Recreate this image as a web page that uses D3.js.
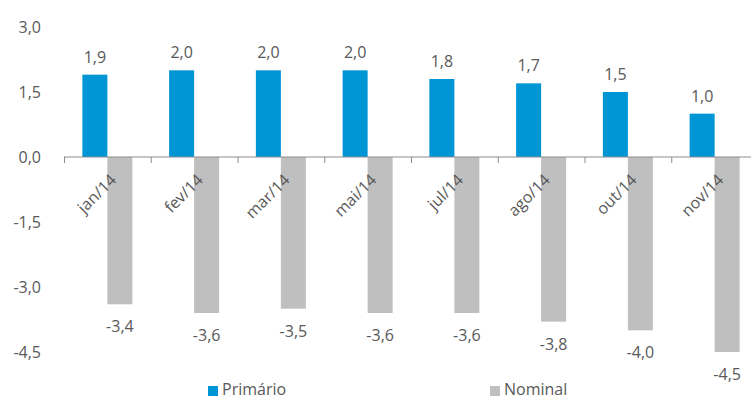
<!DOCTYPE html>
<html>
<head>
<meta charset="utf-8">
<script src="https://cdn.jsdelivr.net/npm/d3@7"></script>
<style>
  body { margin: 0; background: #fff; }
  text { font-family: "Open Sans", Lato, sans-serif; fill: #595959; }
</style>
</head>
<body>
<div id="chart"></div>
<script>
// months shown on the x axis
const months = ['jan/14', 'fev/14', 'mar/14', 'mai/14', 'jul/14', 'ago/14', 'out/14', 'nov/14'];
// resultado primário e nominal (% PIB)
const primario = [1.9, 2.0, 2.0, 2.0, 1.8, 1.7, 1.5, 1.0];
const nominal = [-3.4, -3.6, -3.5, -3.6, -3.6, -3.8, -4.0, -4.5];
const yTicks = [3.0, 1.5, 0.0, -1.5, -3.0, -4.5];
const seriesNames = ['Primário', 'Nominal'];
const colors = ['#0096D6', '#BFBFBF'];

const width = 751, height = 399;
const fmt = v => d3.format('.1f')(v).replace('.', ',').replace('−', '-');

const svg = d3.select('#chart')
  .append('svg')
  .attr('width', width)
  .attr('height', height);

// the plot runs a little past the right edge, as in the source image
let x0 = d3.scaleBand()
  .domain(months)
  .range([64, 758])
  .paddingInner(0)
  .paddingOuter(0);

let y = d3.scaleLinear()
  .domain([3.0, -4.5])
  .range([27, 352]);

const bw = 25;

// y axis: labels only
let yaxis = svg.append('g')
  .attr('transform', 'translate(64, 0)')
  .call(d3.axisLeft(y).tickValues(yTicks).tickSize(0).tickPadding(23).tickFormat(fmt));
yaxis.select('.domain').remove();
yaxis.selectAll('text')
  .style('font-family', '"Open Sans", sans-serif')
  .style('font-size', '16px')
  .style('fill', '#595959');

// bars
const rows = months.map((m, i) => ({ m: m, p: primario[i], n: nominal[i] }));

svg.selectAll('.bar-p')
  .data(rows)
  .enter()
  .append('rect')
  .attr('class', 'bar-p')
  .attr('x', d => x0(d.m) + x0.bandwidth() / 2 - bw)
  .attr('y', d => y(d.p))
  .attr('width', bw)
  .attr('height', d => y(0) - y(d.p))
  .style('fill', colors[0]);

svg.selectAll('.bar-n')
  .data(rows)
  .enter()
  .append('rect')
  .attr('class', 'bar-n')
  .attr('x', d => x0(d.m) + x0.bandwidth() / 2)
  .attr('y', y(0))
  .attr('width', bw)
  .attr('height', d => y(d.n) - y(0))
  .style('fill', colors[1]);

// value labels
svg.selectAll('.lab-p')
  .data(rows)
  .enter()
  .append('text')
  .attr('x', d => x0(d.m) + x0.bandwidth() / 2 - bw / 2)
  .attr('y', d => y(d.p) - 12)
  .attr('text-anchor', 'middle')
  .style('font-size', '16px')
  .text(d => fmt(d.p));

svg.selectAll('.lab-n')
  .data(rows)
  .enter()
  .append('text')
  .attr('x', d => x0(d.m) + x0.bandwidth() / 2 + bw / 2)
  .attr('y', d => y(d.n) + 28)
  .attr('text-anchor', 'middle')
  .style('font-size', '16px')
  .text(d => fmt(d.n));

// x axis on zero line with ticks between categories
let xaxis = svg.append('g')
  .attr('transform', `translate(0, ${y(0)})`);
xaxis.append('line')
  .attr('x1', x0.range()[0])
  .attr('x2', x0.range()[1])
  .style('stroke', '#8C8C8C')
  .style('stroke-width', 1);
xaxis.selectAll('.tk')
  .data(months)
  .enter()
  .append('line')
  .attr('x1', d => x0(d) + 0.5)
  .attr('x2', d => x0(d) + 0.5)
  .attr('y1', 0)
  .attr('y2', 6)
  .style('stroke', '#8C8C8C');

xaxis.selectAll('.cat')
  .data(months)
  .enter()
  .append('text')
  .attr('transform', d => `translate(${x0(d) + x0.bandwidth() / 2 + 6}, 20) rotate(-45)`)
  .attr('text-anchor', 'end')
  .attr('dy', '0.35em')
  .style('font-size', '16px')
  .text(d => d);

// legend
const legendX = [208, 490];
let legend = svg.selectAll('.legend')
  .data(seriesNames)
  .enter()
  .append('g')
  .attr('transform', (d, i) => `translate(${legendX[i]}, 385)`);
legend.append('rect')
  .attr('y', 1)
  .attr('width', 10)
  .attr('height', 10)
  .style('fill', (d, i) => colors[i]);
legend.append('text')
  .attr('x', 14)
  .attr('y', 10)
  .style('font-size', '16px')
  .text(d => d);
</script>
</body>
</html>
